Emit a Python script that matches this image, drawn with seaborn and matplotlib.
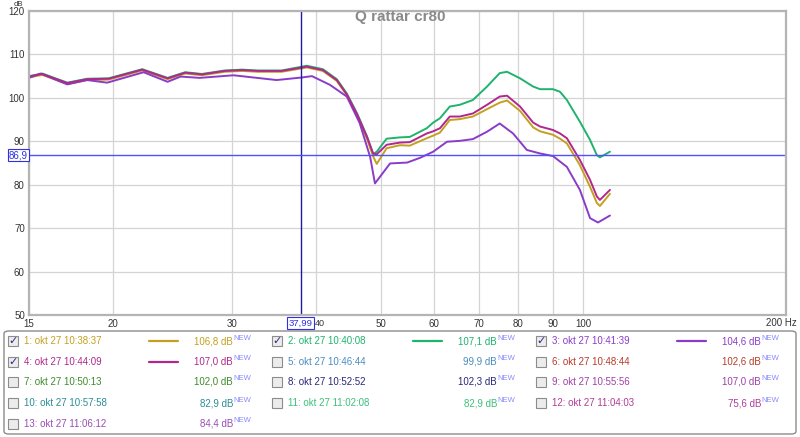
import pandas as pd
import matplotlib.pyplot as plt
import seaborn as sns
from matplotlib.patches import FancyBboxPatch, Rectangle

freq_upper = [15, 15.7, 17.1, 18.3, 19.7, 22.1, 24.1, 25.6, 27.1, 29.3, 31.1, 32.8, 35.6,
              38.2, 38.8, 41.0, 43.0, 44.5, 46.1, 47.7, 48.7, 49.3, 51.0, 53.4, 55.2, 58.5,
              59.8, 61.2, 63.3, 65.5, 68.5, 71.9, 75.1, 77.0, 80.5, 84.2, 86.2, 90.1, 92.3,
              94.5, 98.8, 102.3, 104.7, 105.8, 109.5]
spl_m2 = [105.0, 105.6, 103.5, 104.4, 104.5, 106.6, 104.6, 105.9, 105.5, 106.3, 106.5, 106.3,
          106.3, 107.2, 107.4, 106.6, 104.3, 101.0, 96.4, 91.1, 87.0, 87.6, 90.6, 90.9, 91.0,
          93.0, 94.3, 95.3, 98.0, 98.4, 99.5, 102.6, 105.7, 106.0, 104.5, 102.6, 102.0, 102.0,
          101.4, 99.5, 94.5, 90.3, 86.8, 86.3, 87.6]
spl_m4 = [104.9, 105.5, 103.4, 104.3, 104.4, 106.5, 104.5, 105.8, 105.4, 106.2, 106.4, 106.2,
          106.2, 107.0, 107.2, 106.4, 104.1, 100.8, 96.2, 90.9, 87.2, 87.0, 89.2, 89.7, 89.8,
          91.8, 92.3, 93.0, 95.7, 95.7, 96.4, 98.4, 100.3, 100.5, 98.0, 94.3, 93.4, 92.6,
          91.8, 90.7, 85.7, 81.1, 77.3, 76.5, 78.8]
spl_m1 = [104.7, 105.3, 103.2, 104.1, 104.2, 106.3, 104.3, 105.6, 105.2, 106.0, 106.2, 106.0,
          106.0, 106.8, 107.0, 106.2, 103.9, 100.6, 96.0, 90.5, 86.5, 84.8, 88.4, 89.1, 89.0,
          90.7, 91.3, 92.0, 94.9, 95.1, 95.7, 97.4, 98.9, 99.4, 97.0, 93.2, 92.3, 91.5,
          90.6, 89.5, 84.5, 79.5, 75.8, 75.1, 77.9]
freq_m3 = [15, 15.6, 17.1, 18.3, 19.6, 22.2, 24.1, 25.2, 26.9, 30.2, 35.0, 38.2, 39.5, 42.0,
           44.5, 46.5, 48.2, 49.0, 51.6, 54.7, 57.2, 59.8, 62.7, 65.5, 68.5, 71.9, 75.1, 78.6,
           82.4, 86.2, 90.1, 94.5, 98.8, 102.3, 105.1, 109.5]
spl_m3 = [104.6, 105.6, 103.1, 104.1, 103.5, 105.9, 103.7, 104.9, 104.6, 105.2, 104.1, 104.7,
          105.0, 103.0, 100.3, 94.2, 86.4, 80.3, 84.9, 85.1, 86.2, 87.6, 89.9, 90.1, 90.5,
          92.2, 94.1, 91.8, 88.0, 87.2, 86.6, 84.1, 78.8, 72.3, 71.3, 72.9]

x_ticks = [15, 20, 30, 40, 50, 60, 70, 80, 90, 100, 200]
x_labels = ["15", "20", "30", "", "50", "60", "70", "80", "90", "100", ""]
y_ticks = [50, 60, 70, 80, 90, 100, 110, 120]

cursor_freq = 37.99
cursor_db = 86.9

# legend panel contents
names = ["1: okt 27 10:38:37", "2: okt 27 10:40:08", "3: okt 27 10:41:39",
         "4: okt 27 10:44:09", "5: okt 27 10:46:44", "6: okt 27 10:48:44",
         "7: okt 27 10:50:13", "8: okt 27 10:52:52", "9: okt 27 10:55:56",
         "10: okt 27 10:57:58", "11: okt 27 11:02:08", "12: okt 27 11:04:03",
         "13: okt 27 11:06:12"]
levels = ["106,8 dB", "107,1 dB", "104,6 dB", "107,0 dB", "99,9 dB", "102,6 dB",
          "102,0 dB", "102,3 dB", "107,0 dB", "82,9 dB", "82,9 dB", "75,6 dB", "84,4 dB"]
colors = ["#c4a020", "#1fb36e", "#8a3cc8", "#b0288c", "#4a8cc0", "#b83a28", "#3c8c28",
          "#28287a", "#a040a8", "#2a8c96", "#3cc07a", "#b03c96", "#9a4cb4"]
shown = [True, True, True, True] + [False] * 9

df = pd.concat([
    pd.DataFrame({"freq": freq_upper, "spl": spl_m2, "meas": "2"}),
    pd.DataFrame({"freq": freq_upper, "spl": spl_m1, "meas": "1"}),
    pd.DataFrame({"freq": freq_m3, "spl": spl_m3, "meas": "3"}),
    pd.DataFrame({"freq": freq_upper, "spl": spl_m4, "meas": "4"}),
])
palette = {"1": colors[0], "2": colors[1], "3": colors[2], "4": colors[3]}

sns.set_style("white")
plt.rcParams["font.family"] = ["Liberation Sans", "DejaVu Sans"]

W, H = 800, 437
fig = plt.figure(figsize=(8, 4.37), dpi=100)
ax = fig.add_axes([29 / W, 1 - 315 / H, 757 / W, 304 / H])


def fx(x):
    return x / W


def fy(y):
    return 1 - y / H


sns.lineplot(data=df, x="freq", y="spl", hue="meas", palette=palette,
             hue_order=["2", "1", "3", "4"], lw=1.4, legend=False, ax=ax)
ax.set_xscale("log")
ax.set_xlim(15, 200)
ax.set_ylim(50, 120)
ax.set_xticks(x_ticks)
ax.set_xticklabels(x_labels)
ax.minorticks_off()
ax.set_yticks(y_ticks)
ax.tick_params(length=0, labelsize=7, colors="#333333", pad=3)
ax.grid(True, color="#d4d4d4", lw=0.9)
ax.set_xlabel("")
ax.set_ylabel("")
for s in ax.spines.values():
    s.set_color("#b4b4b4")
    s.set_linewidth(1.6)

ax.axvline(cursor_freq, color="#1c1c9c", lw=1)
ax.axhline(cursor_db, color="#5050ff", lw=1)

fig.text(fx(400), fy(17), "Q rattar cr80", ha="center", va="center",
         fontsize=11, fontweight="bold", color="#8a8a8a")
fig.text(fx(18), fy(0.5), "dB", ha="center", va="top", fontsize=5.5, color="#333333")
fig.text(fx(797), fy(323), "200 Hz", ha="right", va="center", fontsize=7, color="#333333")
# 40 Hz label sits just right of the cursor readout box
fig.text(fx(315), fy(323), "40", ha="left", va="center", fontsize=6.5, color="#333333")

box = dict(boxstyle="square,pad=0.12", fc="white", ec="#3030e0", lw=0.8)
fig.text(fx(18.5), fy(155), "86,9", ha="center", va="center", fontsize=7,
         color="#3030e0", bbox=box)
fig.text(fx(300.5), fy(323), "37,99", ha="center", va="center", fontsize=6.8,
         color="#3030e0", bbox=box)

# legend panel
fig.patches.append(FancyBboxPatch((fx(4), fy(434)), fx(792), 103 / H,
                                  boxstyle="round,pad=0,rounding_size=0.006",
                                  transform=fig.transFigure, fc="white",
                                  ec="#8c8c8c", lw=1))
col_x = [0, 264, 528]
row_y = [341, 362, 382, 403, 424]
for i, name in enumerate(names):
    r, c = divmod(i, 3)
    x0, y0 = col_x[c], row_y[r]
    fig.patches.append(Rectangle((fx(x0 + 8), fy(y0 + 5)), 10 / W, 10 / H,
                                 transform=fig.transFigure, fc="#ececec",
                                 ec="#8c8c8c", lw=0.8))
    if shown[i]:
        fig.text(fx(x0 + 13), fy(y0), "\u2713", ha="center", va="center",
                 fontsize=8, color="#2a2a8a", family=["DejaVu Sans"])
        fig.lines.append(plt.Line2D([fx(x0 + 149), fx(x0 + 178)], [fy(y0), fy(y0)],
                                    transform=fig.transFigure, color=colors[i], lw=1.6))
    fig.text(fx(x0 + 24), fy(y0), name, ha="left", va="center", fontsize=7,
             color=colors[i])
    fig.text(fx(x0 + 233), fy(y0), levels[i], ha="right", va="center", fontsize=7,
             color=colors[i])
    fig.text(fx(x0 + 233), fy(y0 - 3), "NEW", ha="left", va="center", fontsize=5.5,
             color="#8888ff")

fig.savefig("out.png", dpi=100)
